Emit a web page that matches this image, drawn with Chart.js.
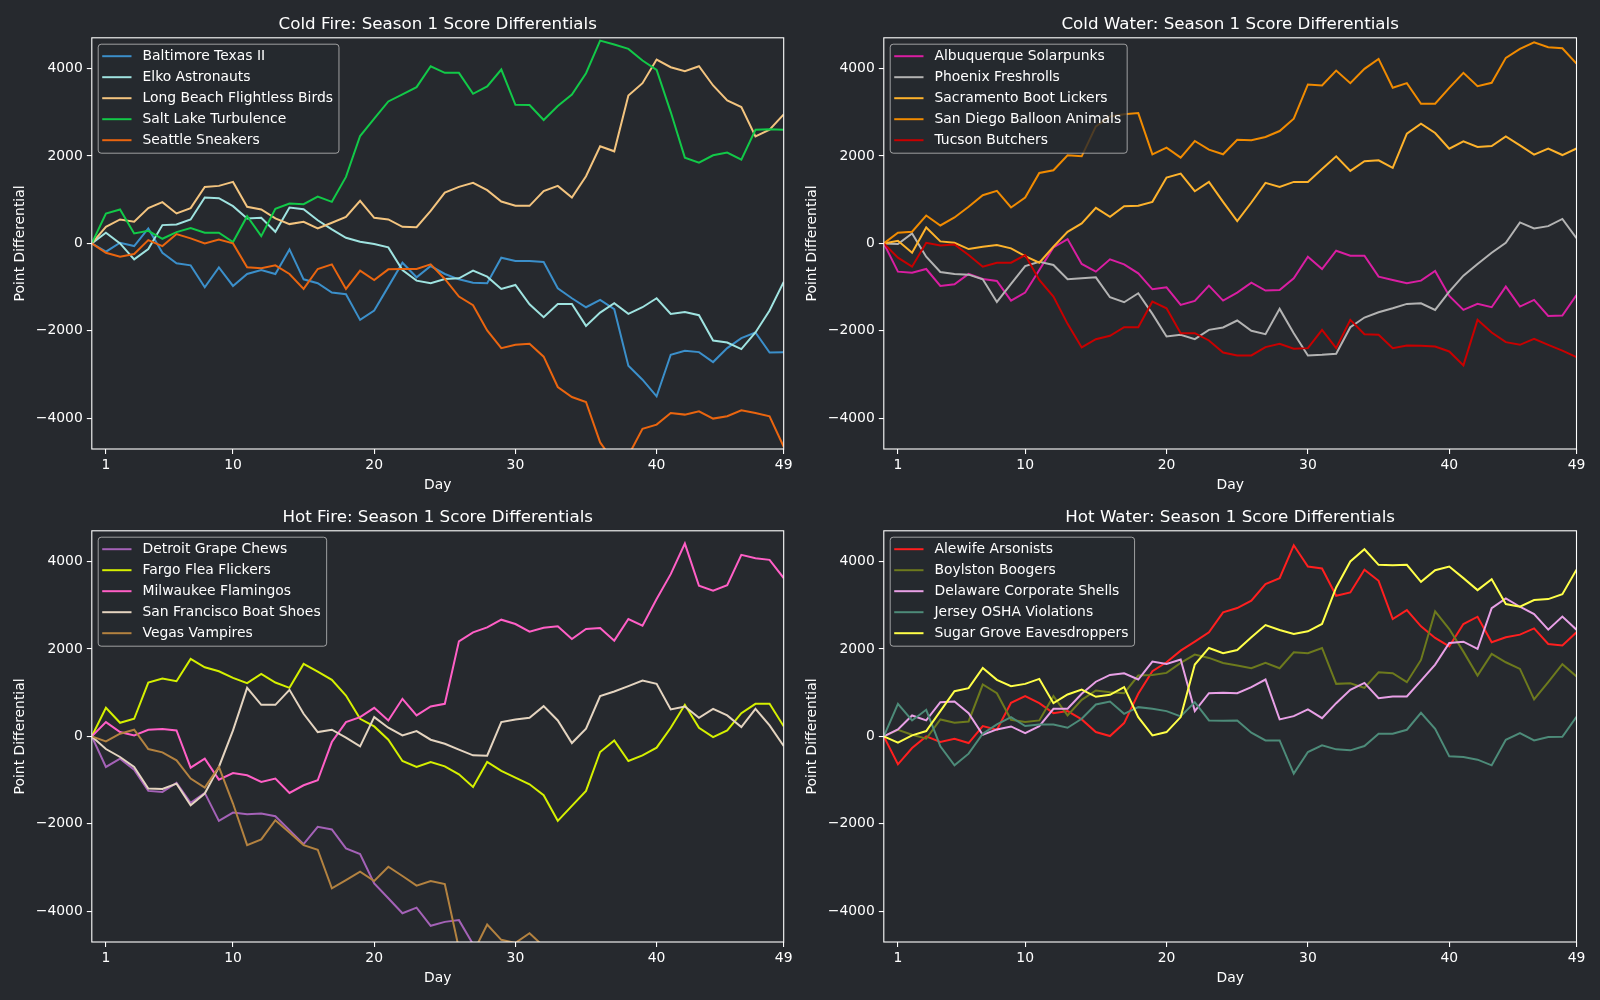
<!DOCTYPE html>
<html><head><meta charset="utf-8">
<script src="https://cdn.jsdelivr.net/npm/chart.js@4.4.0/dist/chart.umd.min.js"></script>
<style>
html,body{margin:0;padding:0;background:#26292e;width:1600px;height:1000px;overflow:hidden}
.p{position:absolute;width:800px;height:500px}
</style></head><body>
<div class="p" style="left:0px;top:0px"><canvas id="c0" width="800" height="500"></canvas></div>
<div class="p" style="left:792px;top:0px"><canvas id="c1" width="800" height="500"></canvas></div>
<div class="p" style="left:0px;top:492.8px"><canvas id="c2" width="800" height="500"></canvas></div>
<div class="p" style="left:792px;top:492.8px"><canvas id="c3" width="800" height="500"></canvas></div>
<script>
const days = [0,1,2,3,4,5,6,7,8,9,10,11,12,13,14,15,16,17,18,19,20,21,22,23,24,25,26,27,28,29,30,31,32,33,34,35,36,37,38,39,40,41,42,43,44,45,46,47,48,49];
const xTicks = [1,10,20,30,40,49];
const yTicks = [-4000,-2000,0,2000,4000];

// Cold Fire
const coldFireNames = ['Baltimore Texas II','Elko Astronauts','Long Beach Flightless Birds','Salt Lake Turbulence','Seattle Sneakers'];
const coldFireColors = ['#3b8fca','#9fe3e0','#f3c47f','#12c948','#ea650f'];
const baltimore = [0,-190,15,-61,342,-213,-456,-502,-1003,-547,-973,-699,-608,-699,-137,-821,-910,-1125,-1163,-1748,-1535,-988,-441,-775,-517,-699,-821,-897,-912,-327,-403,-403,-425,-1026,-1254,-1459,-1292,-1505,-2797,-3116,-3496,-2546,-2455,-2485,-2713,-2394,-2166,-2037,-2493,-2490];
const elko = [0,243,0,-365,-129,418,433,547,1049,1034,851,570,585,266,821,783,530,319,129,38,-15,-91,-608,-851,-912,-813,-798,-623,-760,-1041,-950,-1391,-1687,-1383,-1383,-1885,-1581,-1368,-1611,-1459,-1254,-1611,-1566,-1642,-2219,-2265,-2417,-2037,-1535,-880];
const longBeach = [0,380,547,494,806,943,684,806,1292,1315,1406,836,775,570,441,494,342,471,608,973,585,547,380,372,745,1163,1292,1383,1216,958,859,859,1197,1315,1049,1535,2219,2105,3382,3663,4203,4028,3937,4051,3610,3268,3116,2447,2599,2950];
const saltLake = [0,684,775,228,289,106,258,350,243,243,30,623,167,790,912,897,1070,950,1520,2455,2850,3245,3405,3572,4050,3899,3899,3420,3587,3975,3169,3162,2820,3139,3405,3891,4636,4545,4446,4180,3967,3002,1961,1847,2014,2075,1915,2599,2607,2600];
const seattle = [0,-213,-304,-243,76,-61,213,114,0,91,0,-547,-570,-502,-699,-1041,-585,-479,-1041,-623,-836,-593,-585,-585,-479,-813,-1216,-1414,-1991,-2394,-2318,-2295,-2590,-3283,-3511,-3625,-4550,-5000,-4850,-4240,-4142,-3876,-3914,-3838,-4005,-3952,-3815,-3876,-3952,-4650];

// Cold Water
const coldWaterNames = ['Albuquerque Solarpunks','Phoenix Freshrolls','Sacramento Boot Lickers','San Diego Balloon Animals','Tucson Butchers'];
const coldWaterColors = ['#d91ea2','#b3b3b3','#fdb22b','#f18b00','#c90000'];
const albuquerque = [0,-646,-669,-585,-973,-935,-699,-813,-859,-1307,-1125,-608,-91,99,-471,-646,-365,-479,-684,-1049,-1003,-1406,-1315,-965,-1307,-1125,-897,-1079,-1064,-798,-304,-585,-167,-281,-281,-760,-836,-912,-851,-631,-1201,-1520,-1383,-1459,-988,-1444,-1292,-1657,-1650,-1180];
const phoenix = [0,-15,228,-304,-654,-699,-714,-821,-1338,-927,-517,-418,-494,-821,-798,-775,-1231,-1345,-1140,-1611,-2128,-2090,-2189,-1976,-1923,-1763,-1999,-2075,-1497,-2052,-2561,-2546,-2523,-1915,-1695,-1573,-1482,-1383,-1368,-1520,-1102,-737,-471,-213,15,479,342,395,560,120];
const sacramento = [0,61,-213,365,46,15,-129,-76,-38,-114,-289,-441,-76,266,456,813,608,851,859,950,1505,1596,1193,1406,950,509,935,1383,1292,1406,1406,1700,1991,1657,1877,1900,1725,2508,2736,2523,2166,2333,2204,2227,2447,2242,2029,2166,2020,2170];
const sanDiego = [0,243,266,638,410,593,836,1102,1201,821,1049,1611,1672,2014,1991,2675,2900,2950,2979,2037,2189,1961,2341,2143,2037,2371,2356,2432,2569,2850,3633,3610,3952,3663,3990,4218,3557,3663,3192,3192,3557,3899,3595,3671,4241,4446,4598,4484,4460,4110];
const tucson = [0,-327,-532,15,-46,-23,-266,-532,-441,-441,-266,-836,-1216,-1839,-2379,-2189,-2113,-1915,-1915,-1330,-1482,-2052,-2052,-2219,-2493,-2561,-2561,-2371,-2295,-2409,-2394,-1976,-2394,-1748,-2075,-2090,-2394,-2333,-2341,-2356,-2470,-2789,-1748,-2037,-2257,-2318,-2181,-2318,-2450,-2600];

// Hot Fire
const hotFireNames = ['Detroit Grape Chews','Fargo Flea Flickers','Milwaukee Flamingos','San Francisco Boat Shoes','Vegas Vampires'];
const hotFireColors = ['#a462b7','#d5f000','#ff5fc6','#e4d4c0','#b38240'];
const detroit = [0,-699,-509,-760,-1246,-1269,-1064,-1520,-1292,-1930,-1740,-1778,-1763,-1824,-2143,-2462,-2067,-2128,-2561,-2690,-3359,-3701,-4043,-3914,-4330,-4240,-4200,-4750,-4900,-5100,-5300,-5200,-5400,-5600,-5500,-5700,-5900,-5800,-6000,-6100,-6000,-6200,-6300,-6200,-6400,-6500,-6400,-6600,-6700,-6800];
const fargo = [0,654,312,403,1231,1322,1262,1771,1581,1490,1338,1216,1429,1231,1110,1657,1480,1292,935,403,228,-76,-562,-699,-585,-684,-866,-1155,-585,-790,-942,-1094,-1345,-1930,-1588,-1246,-357,-91,-562,-433,-258,198,722,198,-15,137,532,745,745,230];
const milwaukee = [0,327,99,23,152,167,137,-714,-509,-988,-836,-889,-1041,-965,-1292,-1117,-1003,-129,327,441,654,365,859,479,684,745,2174,2379,2493,2668,2569,2394,2485,2516,2227,2455,2478,2189,2683,2531,3139,3709,4408,3443,3329,3458,4150,4074,4036,3620];
const sanFrancisco = [0,-289,-471,-699,-1193,-1201,-1079,-1573,-1307,-699,137,1110,722,722,1064,517,99,152,-30,-228,441,198,23,122,-76,-167,-304,-433,-441,327,388,426,692,365,-152,175,920,1026,1148,1277,1201,616,684,426,631,479,213,631,251,-220];
const vegas = [0,-114,61,152,-289,-365,-547,-965,-1170,-699,-1535,-2485,-2356,-1915,-2196,-2485,-2590,-3473,-3283,-3093,-3306,-2979,-3192,-3412,-3306,-3374,-4850,-4950,-4300,-4650,-4720,-4500,-4800,-5100,-5300,-5200,-5400,-5600,-5500,-5700,-5900,-6000,-5900,-6100,-6200,-6100,-6300,-6400,-6300,-6500];

// Hot Water
const hotWaterNames = ['Alewife Arsonists','Boylston Boogers','Delaware Corporate Shells','Jersey OSHA Violations','Sugar Grove Eavesdroppers'];
const hotWaterColors = ['#ff1f1f','#6d7a1d','#e8a0e6','#4d8b79','#ffff48'];
const alewife = [0,-638,-266,0,-129,-53,-152,236,152,768,920,760,532,578,388,100,8,304,973,1490,1695,1961,2166,2379,2835,2934,3101,3481,3618,4370,3884,3838,3215,3291,3808,3557,2683,2888,2516,2250,2060,2569,2736,2151,2265,2326,2470,2113,2080,2380];
const boylston = [0,152,38,-53,388,312,342,1186,988,380,327,365,920,479,836,1049,1011,988,1391,1406,1452,1680,1870,1794,1680,1619,1558,1680,1558,1923,1900,2022,1201,1216,1110,1467,1444,1239,1748,2858,2455,1938,1391,1885,1695,1543,844,1239,1650,1370];
const delaware = [0,160,479,365,783,798,532,38,160,228,76,236,631,631,973,1250,1406,1444,1300,1710,1657,1756,578,988,996,988,1125,1300,388,464,616,418,760,1064,1224,874,912,912,1277,1642,2136,2166,1999,2934,3154,2964,2797,2440,2740,2440];
const jersey = [0,745,365,608,-228,-661,-395,61,274,441,236,274,274,198,403,730,798,517,669,631,578,456,783,365,357,365,84,-91,-91,-851,-357,-205,-296,-319,-220,61,61,152,540,175,-456,-471,-532,-661,-76,76,-91,-15,-10,450];
const sugarGrove = [0,-144,23,122,578,1034,1102,1566,1292,1148,1201,1315,760,958,1072,905,950,1125,441,23,99,441,1642,2022,1900,1976,2265,2546,2432,2341,2402,2570,3405,3998,4279,3922,3914,3922,3534,3800,3884,3618,3344,3595,3025,2964,3116,3139,3250,3810];

const BG = '#26292e';
const FONT = '"DejaVu Sans", sans-serif';
Chart.defaults.font.family = FONT;

const decor = {
  id: 'decor',
  afterDatasetsDraw(chart, args, opts) {
    const ctx = chart.ctx, a = chart.chartArea;
    ctx.save();
    // frame
    ctx.strokeStyle = '#ffffff';
    ctx.lineWidth = 1.1;
    ctx.strokeRect(a.left, a.top, a.right - a.left, a.bottom - a.top);
    // legend
    ctx.font = '13.9px ' + FONT;
    const names = opts.names;
    let tw = 0;
    names.forEach(n => { tw = Math.max(tw, ctx.measureText(n).width); });
    const bx = a.left + 6.4, by = a.top + 6.4;
    const bw = 44.3 + tw + 6, bh = 109;
    const r = 3;
    ctx.beginPath();
    ctx.moveTo(bx + r, by);
    ctx.lineTo(bx + bw - r, by); ctx.quadraticCurveTo(bx + bw, by, bx + bw, by + r);
    ctx.lineTo(bx + bw, by + bh - r); ctx.quadraticCurveTo(bx + bw, by + bh, bx + bw - r, by + bh);
    ctx.lineTo(bx + r, by + bh); ctx.quadraticCurveTo(bx, by + bh, bx, by + bh - r);
    ctx.lineTo(bx, by + r); ctx.quadraticCurveTo(bx, by, bx + r, by);
    ctx.closePath();
    ctx.fillStyle = 'rgba(38,41,46,0.8)';
    ctx.fill();
    ctx.strokeStyle = 'rgba(200,200,200,0.75)';
    ctx.lineWidth = 1;
    ctx.stroke();
    ctx.textBaseline = 'middle';
    ctx.textAlign = 'left';
    names.forEach((n, i) => {
      const cy = by + 12 + i * 21;
      ctx.strokeStyle = opts.colors[i];
      ctx.lineWidth = 2;
      ctx.beginPath();
      ctx.moveTo(bx + 4, cy); ctx.lineTo(bx + 33.3, cy);
      ctx.stroke();
      ctx.fillStyle = '#ffffff';
      ctx.fillText(n, bx + 44.3, cy + 0.5);
    });
    // title
    ctx.font = '16.7px ' + FONT;
    ctx.textAlign = 'center';
    ctx.textBaseline = 'alphabetic';
    ctx.fillStyle = '#ffffff';
    ctx.fillText(opts.title, (a.left + a.right) / 2, a.top - 9);
    ctx.restore();
  }
};

function makePanel(id, title, names, colors, series, padRight) {
  const n = series.length;
  const datasets = series.map((s, i) => ({
    label: names[i],
    data: days.map((d, j) => ({x: d, y: s[j]})),
    borderColor: colors[i],
    backgroundColor: colors[i],
    borderWidth: 2,
    pointRadius: 0,
    tension: 0,
    fill: false,
    order: n - 1 - i
  }));
  const tickFont = {family: FONT, size: 13.9};
  new Chart(document.getElementById(id), {
    type: 'line',
    data: {datasets},
    options: {
      responsive: false,
      animation: false,
      layout: {padding: {top: 37.8, right: padRight, left: 0, bottom: 0}},
      plugins: {
        legend: {display: false},
        tooltip: {enabled: false},
        decor: {title, names, colors}
      },
      scales: {
        x: {
          type: 'linear', min: 0, max: 49,
          afterBuildTicks: s => { s.ticks = xTicks.map(v => ({value: v})); },
          afterFit: s => { s.height = 51; },
          ticks: {color: '#ffffff', font: tickFont, padding: 3, maxRotation: 0, autoSkip: false, callback: v => String(v)},
          grid: {display: true, drawOnChartArea: false, drawTicks: true, tickLength: 5, color: '#ffffff', lineWidth: 1.1},
          border: {display: false},
          title: {display: true, text: 'Day', color: '#ffffff', font: tickFont, padding: {top: 0, bottom: 6.5}}
        },
        y: {
          type: 'linear', min: -4700, max: 4700,
          afterBuildTicks: s => { s.ticks = yTicks.map(v => ({value: v})); },
          afterFit: s => { s.width = 91.8; },
          ticks: {color: '#ffffff', font: tickFont, padding: 4, callback: v => String(v).replace('-', '\u2212')},
          grid: {display: true, drawOnChartArea: false, drawTicks: true, tickLength: 5, color: '#ffffff', lineWidth: 1.1},
          border: {display: false},
          title: {display: true, text: 'Point Differential', color: '#ffffff', font: tickFont, padding: {top: 12, bottom: 0}}
        }
      }
    },
    plugins: [decor]
  });
}

makePanel('c0', 'Cold Fire: Season 1 Score Differentials', coldFireNames, coldFireColors, [baltimore, elko, longBeach, saltLake, seattle], 16.3);
makePanel('c1', 'Cold Water: Season 1 Score Differentials', coldWaterNames, coldWaterColors, [albuquerque, phoenix, sacramento, sanDiego, tucson], 15.5);
makePanel('c2', 'Hot Fire: Season 1 Score Differentials', hotFireNames, hotFireColors, [detroit, fargo, milwaukee, sanFrancisco, vegas], 16.3);
makePanel('c3', 'Hot Water: Season 1 Score Differentials', hotWaterNames, hotWaterColors, [alewife, boylston, delaware, jersey, sugarGrove], 15.5);
</script>
</body></html>
